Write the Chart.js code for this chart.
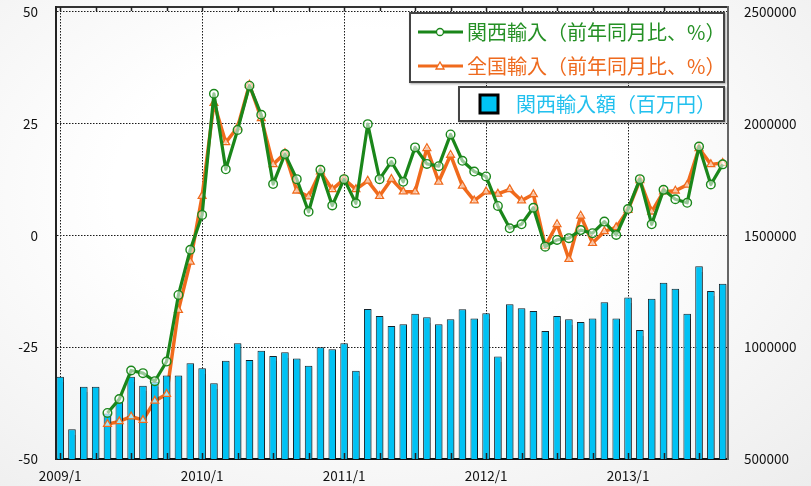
<!DOCTYPE html>
<html>
<head>
<meta charset="utf-8">
<script src="https://cdn.jsdelivr.net/npm/chart.js@4/dist/chart.umd.min.js"></script>
<style>
  html, body { margin: 0; padding: 0; }
  body {
    width: 811px; height: 486px; overflow: hidden;
    background: radial-gradient(ellipse at 45% 40%, #ffffff 40%, #ededed 100%);
    font-family: "Noto Sans CJK JP", sans-serif;
  }
  #wrap { position: relative; width: 811px; height: 486px; }
  .box { position: absolute; background: #fff; border: 2px solid #444; box-shadow: 1px 1px 2px rgba(0,0,0,0.35); }
  .txt { position: absolute; font-size: 20px; line-height: 24px; white-space: nowrap; }
  svg { position: absolute; }
</style>
</head>
<body>
<div id="wrap">
  <canvas id="chart" width="811" height="486"></canvas>

  <div class="box" style="left:409px;top:12px;width:312px;height:67px"></div>
  <svg style="left:416px;top:24px" width="50" height="16">
    <line x1="2" y1="8" x2="47" y2="8" stroke="#1a861a" stroke-width="3"/>
    <circle cx="24" cy="8" r="3.5" fill="#fff" stroke="#1a861a" stroke-width="1.3"/>
  </svg>
  <div class="txt" style="left:467px;top:20px;color:#259025">関西輸入（前年同月比、%）</div>
  <svg style="left:416px;top:58px" width="50" height="16">
    <line x1="2" y1="8" x2="47" y2="8" stroke="#f06a1c" stroke-width="3"/>
    <path d="M24 4 L28 11 L20 11 Z" fill="#fff" stroke="#f06a1c" stroke-width="1.3"/>
  </svg>
  <div class="txt" style="left:467px;top:54px;color:#ee6a1e">全国輸入（前年同月比、%）</div>

  <div class="box" style="left:458px;top:86px;width:263px;height:32px"></div>
  <svg style="left:478px;top:93px" width="24" height="24">
    <rect x="2" y="2" width="18" height="18" fill="#00c4f4" stroke="#000" stroke-width="3"/>
  </svg>
  <div class="txt" style="left:516px;top:92px;color:#22c0ee">関西輸入額（百万円）</div>
</div>

<script>
// months 2009/1 .. 2013/9
const months = [
  '2009/1','2009/2','2009/3','2009/4','2009/5','2009/6','2009/7','2009/8','2009/9','2009/10','2009/11','2009/12',
  '2010/1','2010/2','2010/3','2010/4','2010/5','2010/6','2010/7','2010/8','2010/9','2010/10','2010/11','2010/12',
  '2011/1','2011/2','2011/3','2011/4','2011/5','2011/6','2011/7','2011/8','2011/9','2011/10','2011/11','2011/12',
  '2012/1','2012/2','2012/3','2012/4','2012/5','2012/6','2012/7','2012/8','2012/9','2012/10','2012/11','2012/12',
  '2013/1','2013/2','2013/3','2013/4','2013/5','2013/6','2013/7','2013/8','2013/9'
];
const yearTicks = [0, 12, 24, 36, 48];
const pctTicks = [-50, -25, 0, 25, 50];
const amountTicks = [500000, 1000000, 1500000, 2000000, 2500000];

// 関西輸入（前年同月比、%）
const kansaiYoY = [
  null, null, null, null, -39.7, -36.6, -30.2, -30.8, -32.6, -28.2, -13.3, -3.2,
  4.6, 31.7, 14.8, 23.6, 33.5, 27.0, 11.5, 18.2, 12.6, 5.3, 14.7, 6.7,
  12.6, 7.2, 24.9, 12.6, 16.5, 12.0, 19.7, 16.0, 15.5, 22.6, 16.7, 14.3,
  13.2, 6.6, 1.6, 2.5, 6.2, -2.5, -1.0, -0.6, 1.2, 0.5, 3.1, 0.1,
  5.9, 12.6, 2.5, 10.2, 8.1, 7.3, 19.9, 11.4, 15.9
];
// 全国輸入（前年同月比、%）
const nationalYoY = [
  null, null, null, null, -42.2, -41.6, -40.5, -41.3, -37.0, -35.5, -16.7, -5.9,
  8.8, 29.6, 20.8, 24.2, 33.7, 26.2, 15.9, 18.4, 10.0, 8.7, 14.3, 10.3,
  12.6, 10.3, 12.2, 8.8, 12.6, 9.8, 9.8, 19.5, 12.0, 18.0, 11.1, 7.8,
  9.8, 9.3, 10.3, 7.8, 9.2, -2.4, 2.5, -5.3, 4.4, -1.7, 0.9, 1.8,
  5.7, 12.3, 5.3, 9.8, 10.0, 11.3, 19.5, 15.9, 16.2
];
// 関西輸入額（百万円）
const kansaiAmount = [
  868000, 633000, 823500, 823500, 704000, 756000, 868000, 828000, 846000, 873000, 873000, 928000,
  906000, 838500, 940000, 1017500, 943000, 984600, 961000, 977000, 950000, 917600, 999600, 990700,
  1017500, 895000, 1171000, 1140000, 1095000, 1102500, 1150000, 1134000, 1102500, 1125000, 1170000, 1129000,
  1152000, 958000, 1192000, 1174000, 1162000, 1073000, 1140000, 1125000, 1113000, 1128000, 1201000, 1128000,
  1223000, 1077000, 1217000, 1289000, 1262000, 1150000, 1362000, 1252000, 1284000
];

const GREEN = '#1a861a';
const ORANGE = '#f06a1c';
const CYAN = '#00c2f4';

const xMin = -0.35, xMax = 56.45;
const pctMin = -50, pctMax = 51.1;
const amtMin = 500000, amtMax = 500000 + (pctMax - pctMin) * 20000;

function toPoints(arr) {
  return arr.map((v, i) => ({ x: i, y: v }));
}

// keep the plot frame exactly where the axes are sized
function noPad(scale) {
  scale.paddingTop = 0;
  scale.paddingBottom = 0;
  scale.paddingLeft = 0;
  scale.paddingRight = 0;
}

// small inward tick marks every 3 months on top and bottom edges
const innerTicks = {
  id: 'innerTicks',
  afterDatasetsDraw(chart) {
    const ctx = chart.ctx;
    const xs = chart.scales.x;
    const area = chart.chartArea;
    ctx.save();
    ctx.strokeStyle = '#222';
    ctx.lineWidth = 1.5;
    for (let i = 0; i < months.length; i += 3) {
      const px = Math.round(xs.getPixelForValue(i)) + 0.5;
      ctx.beginPath();
      ctx.moveTo(px, area.top);
      ctx.lineTo(px, area.top + 4);
      ctx.moveTo(px, area.bottom);
      ctx.lineTo(px, area.bottom - 6);
      ctx.stroke();
    }
    ctx.restore();
  }
};

// soft shadow behind the bars
const barShadow = {
  id: 'barShadow',
  beforeDatasetDraw(chart, args) {
    if (args.meta.type !== 'bar') return;
    const ctx = chart.ctx;
    ctx.save();
    ctx.shadowColor = 'rgba(0,0,0,0.35)';
    ctx.shadowOffsetX = 1.5;
    ctx.shadowOffsetY = 1;
    ctx.shadowBlur = 1.5;
  },
  afterDatasetDraw(chart, args) {
    if (args.meta.type !== 'bar') return;
    chart.ctx.restore();
  }
};

const dotted = '#1a1a1a';

new Chart(document.getElementById('chart'), {
  data: {
    datasets: [
      {
        type: 'line',
        label: '関西輸入（前年同月比、%）',
        data: toPoints(kansaiYoY),
        xAxisID: 'x',
        yAxisID: 'y',
        borderColor: GREEN,
        borderWidth: 3.2,
        borderJoinStyle: 'round',
        pointRadius: 4.3,
        pointBorderWidth: 1.4,
        pointBorderColor: GREEN,
        pointBackgroundColor: 'rgba(255,255,255,0.55)',
        tension: 0,
        order: 0
      },
      {
        type: 'line',
        label: '全国輸入 markers',
        data: toPoints(nationalYoY),
        xAxisID: 'x',
        yAxisID: 'y',
        showLine: false,
        pointStyle: 'triangle',
        pointRadius: 4.5,
        pointBorderWidth: 1.3,
        pointBorderColor: ORANGE,
        pointBackgroundColor: 'rgba(255,255,255,0.6)',
        order: 1
      },
      {
        type: 'bar',
        label: '関西輸入額（百万円）',
        data: toPoints(kansaiAmount),
        xAxisID: 'x',
        yAxisID: 'y1',
        backgroundColor: CYAN,
        borderColor: '#15262e',
        borderWidth: 1,
        barPercentage: 1,
        categoryPercentage: 0.64,
        order: 2
      },
      {
        type: 'line',
        label: '全国輸入（前年同月比、%）',
        data: toPoints(nationalYoY),
        xAxisID: 'x',
        yAxisID: 'y',
        borderColor: ORANGE,
        borderWidth: 3.5,
        borderJoinStyle: 'round',
        pointRadius: 0,
        tension: 0,
        order: 3
      }
    ]
  },
  options: {
    responsive: false,
    animation: false,
    layout: { padding: 0 },
    plugins: {
      legend: { display: false },
      tooltip: { enabled: false }
    },
    scales: {
      x: {
        type: 'linear',
        position: 'bottom',
        offset: false,
        min: xMin,
        max: xMax,
        afterBuildTicks: scale => { scale.ticks = yearTicks.map(v => ({ value: v })); },
        afterFit: scale => { scale.height = 27; noPad(scale); },
        ticks: {
          callback: v => months[v],
          color: '#111',
          font: { family: 'Noto Sans CJK JP', size: 13.5 },
          padding: 9,
          maxRotation: 0,
          autoSkip: false
        },
        grid: { offset: false, color: dotted, lineWidth: 1, drawTicks: false },
        border: { display: true, color: '#111', width: 2, dash: [1.5, 1.5] }
      },
      xTop: {
        type: 'linear',
        position: 'top',
        offset: false,
        min: xMin,
        max: xMax,
        afterFit: scale => { scale.height = 7; noPad(scale); },
        ticks: { display: false },
        grid: { offset: false, drawOnChartArea: false, drawTicks: false },
        border: { display: true, color: '#333', width: 2 }
      },
      y: {
        type: 'linear',
        position: 'left',
        min: pctMin,
        max: pctMax,
        afterBuildTicks: scale => { scale.ticks = pctTicks.map(v => ({ value: v })); },
        afterFit: scale => { scale.width = 56; noPad(scale); },
        ticks: {
          color: '#111',
          font: { family: 'Noto Sans CJK JP', size: 13.5 },
          padding: 18
        },
        grid: { color: dotted, lineWidth: 1, drawTicks: false },
        border: { display: true, color: '#222', width: 2, dash: [1.5, 1.5] }
      },
      y1: {
        type: 'linear',
        position: 'right',
        min: amtMin,
        max: amtMax,
        afterBuildTicks: scale => { scale.ticks = amountTicks.map(v => ({ value: v })); },
        afterFit: scale => { scale.width = 83; noPad(scale); },
        ticks: {
          color: '#111',
          font: { family: 'Noto Sans CJK JP', size: 13.5 },
          padding: 16,
          callback: v => String(v)
        },
        grid: { drawOnChartArea: false, drawTicks: false },
        border: { display: true, color: '#666', width: 2 }
      }
    }
  },
  plugins: [innerTicks, barShadow]
});
</script>
</body>
</html>
